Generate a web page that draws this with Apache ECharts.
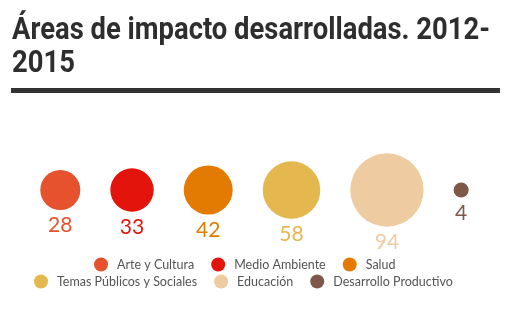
<!DOCTYPE html>
<html>
<head>
<meta charset="utf-8">
<script src="https://cdn.jsdelivr.net/npm/echarts@6/dist/echarts.min.js"></script>
<style>html,body{margin:0;padding:0;background:#fff;}#c{width:509px;height:325px;}</style>
</head>
<body>
<div id="c"></div>
<script>
const categories = ['Arte y Cultura', 'Medio Ambiente', 'Salud', 'Temas Públicos y Sociales', 'Educación', 'Desarrollo Productivo'];
const values = [28, 33, 42, 58, 94, 4];
const colors = ['#e6512e', '#e2140c', '#e37b02', '#e4b84f', '#efcba2', '#80584a'];
const titleLine1 = 'Áreas de impacto desarrolladas. 2012-';
const titleLine2 = '2015';

const W = 509;
const scale = 7.56;   // diameter per sqrt(value)
const gap = 30;
const sizes = values.map(v => scale * Math.sqrt(v));
const total = sizes.reduce((a, b) => a + b, 0) + gap * (values.length - 1);
let edge = (W - total) / 2;
const xs = sizes.map(s => { const c = edge + s / 2; edge += s + gap; return c; });

const titleFont = 'bold 31px Roboto';
const ctx = document.createElement('canvas').getContext('2d');
ctx.font = titleFont;
const titleScale = 478 / ctx.measureText(titleLine1).width;

const font = 'Lato';
const legendCommon = {itemWidth: 14, itemHeight: 14, itemGap: 17, icon: 'circle',
  textStyle: {fontFamily: font, fontSize: 12.5, color: '#555', padding: [0, 0, 0, 4]}};
const chart = echarts.init(document.getElementById('c'), null, {renderer: 'canvas'});
chart.setOption({
  animation: false,
  graphic: [
    {type: 'text', x: 12, y: 16, scaleX: titleScale, style: {text: titleLine1, font: titleFont, fill: '#2e2e2e'}},
    {type: 'text', x: 12, y: 49, scaleX: titleScale, style: {text: titleLine2, font: titleFont, fill: '#2e2e2e'}},
    {type: 'rect', left: 11, top: 88, shape: {width: 489, height: 5}, style: {fill: '#333'}}
  ],
  grid: {left: 0, right: 0, top: 170, height: 40},
  xAxis: {type: 'value', min: 0, max: W, show: false},
  yAxis: {type: 'value', min: -1, max: 1, show: false},
  legend: [
    Object.assign({data: categories.slice(0, 3), top: 252.5, left: 89}, legendCommon),
    Object.assign({data: categories.slice(3), top: 269.5, left: 29}, legendCommon)
  ],
  series: categories.map((name, i) => ({
    type: 'scatter', name: name,
    data: [[xs[i], 0, values[i]]],
    symbolSize: sizes[i],
    itemStyle: {color: colors[i], opacity: 1},
    label: {show: true, position: 'bottom', distance: 5, formatter: p => p.value[2],
            fontFamily: font, fontSize: 21, color: colors[i]}
  }))
});
</script>
</body>
</html>
